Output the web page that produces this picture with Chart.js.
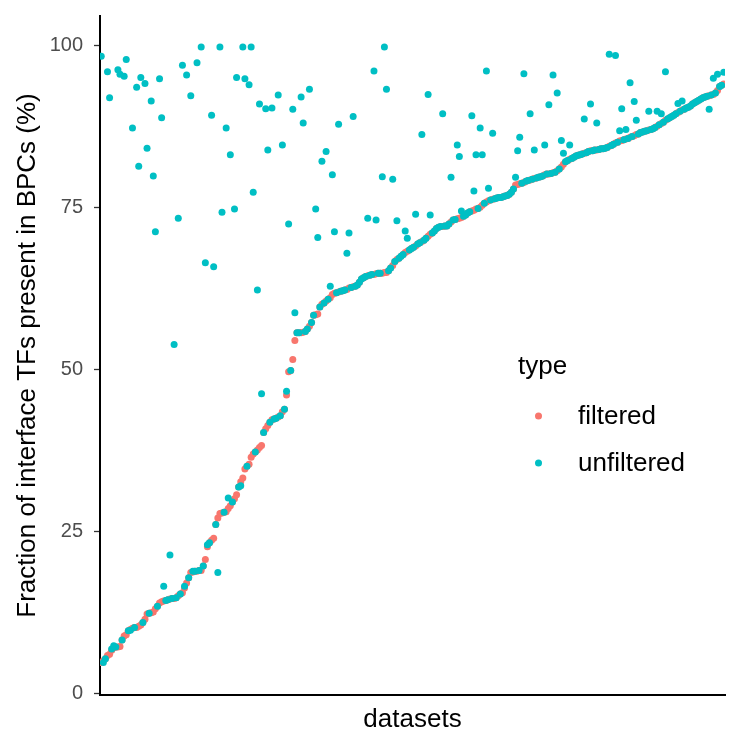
<!DOCTYPE html>
<html>
<head>
<meta charset="utf-8">
<script src="https://cdn.jsdelivr.net/npm/chart.js@4.4.1/dist/chart.umd.min.js"></script>
<style>
  html, body { margin: 0; padding: 0; background: #ffffff; }
  #wrap { position: relative; width: 729px; height: 733px; }
</style>
</head>
<body>
<div id="wrap"><canvas id="scatterChart"></canvas></div>
<script>
// series, one value per dataset (datasets are ordered by the filtered value)
var seriesNames = ['filtered', 'unfiltered'];
var seriesColors = ['#F8766D', '#00BFC4'];
var yTicks = [0, 25, 50, 75, 100];

var filtered = [
    4.7, 5.0, 5.3, 5.8, 6.0, 6.6, 7.0, 7.1, 7.1, 7.2,
    8.2, 8.8, 9.0, 9.6, 9.8, 10.0, 10.1, 10.1, 10.3, 10.5,
    10.9, 11.4, 12.2, 12.3, 12.4, 12.5, 13.0, 13.4, 13.9, 14.1,
    14.2, 14.3, 14.4, 14.5, 14.6, 14.6, 14.7, 15.0, 15.3, 15.5,
    16.2, 17.0, 17.8, 18.6, 18.7, 18.8, 18.8, 18.9, 18.9, 19.6,
    20.6, 22.6, 23.2, 23.6, 23.9, 26.0, 27.0, 27.7, 27.8, 27.9,
    28.0, 28.5, 28.9, 29.5, 30.0, 30.6, 31.8, 32.6, 33.2, 34.6,
    35.0, 35.3, 36.4, 36.9, 37.2, 37.5, 37.9, 38.2, 40.2, 40.8,
    41.3, 41.8, 42.2, 42.3, 42.4, 42.6, 42.8, 43.4, 43.8, 46.0,
    49.6, 49.8, 51.5, 54.4, 55.6, 55.6, 55.6, 55.7, 55.8, 56.2,
    56.6, 57.2, 58.3, 58.4, 58.5, 59.6, 60.0, 60.2, 60.5, 60.8,
    61.0, 61.5, 61.7, 61.8, 61.9, 62.0, 62.1, 62.2, 62.3, 62.5,
    62.6, 62.7, 62.8, 63.0, 63.4, 63.9, 64.1, 64.3, 64.4, 64.5,
    64.6, 64.6, 64.7, 64.8, 64.8, 64.8, 64.9, 64.9, 65.2, 65.6,
    66.0, 66.6, 66.9, 67.1, 67.4, 67.7, 68.0, 68.2, 68.4, 68.6,
    68.8, 69.0, 69.3, 69.5, 69.7, 69.9, 70.2, 70.5, 70.8, 71.0,
    71.3, 71.7, 71.9, 72.0, 72.0, 72.1, 72.1, 72.4, 72.7, 73.0,
    73.1, 73.2, 73.3, 73.4, 73.6, 73.8, 74.1, 74.3, 74.4, 74.5,
    74.7, 74.8, 75.0, 75.3, 75.6, 75.8, 76.0, 76.1, 76.2, 76.3,
    76.4, 76.5, 76.5, 76.6, 76.7, 76.8, 77.0, 77.3, 77.8, 78.4,
    78.5, 78.6, 78.7, 78.8, 79.0, 79.1, 79.2, 79.3, 79.4, 79.5,
    79.6, 79.7, 79.8, 80.0, 80.1, 80.1, 80.2, 80.3, 80.4, 80.6,
    80.9, 81.2, 81.6, 82.0, 82.2, 82.4, 82.5, 82.7, 82.9, 83.0,
    83.1, 83.2, 83.3, 83.4, 83.6, 83.7, 83.7, 83.8, 83.8, 83.9,
    84.0, 84.0, 84.1, 84.2, 84.4, 84.5, 84.7, 84.9, 85.0, 85.2,
    85.3, 85.4, 85.5, 85.6, 85.8, 85.9, 86.0, 86.2, 86.3, 86.5,
    86.6, 86.7, 86.8, 86.9, 87.0, 87.1, 87.3, 87.5, 87.7, 87.9,
    88.1, 88.4, 88.6, 88.8, 89.0, 89.2, 89.4, 89.6, 89.8, 90.0,
    90.1, 90.3, 90.4, 90.6, 90.9, 91.1, 91.3, 91.5, 91.7, 91.9,
    92.0, 92.1, 92.2, 92.3, 92.4, 92.6, 93.0, 93.6, 93.8, 94.0
];

var unfiltered = [
    98.3, 4.7, 5.3, 95.9, 91.9, 6.8, 7.3, 7.1, 96.2, 95.5,
    8.2, 95.2, 97.8, 9.6, 9.7, 87.2, 10.1, 93.5, 81.3, 95.0,
    10.9, 94.1, 84.1, 12.3, 91.4, 79.8, 71.2, 13.4, 94.8, 88.8,
    16.5, 14.3, 14.4, 21.3, 14.6, 53.8, 14.7, 73.3, 15.3, 96.9,
    16.5, 95.4, 17.8, 92.2, 18.8, 18.8, 97.3, 18.9, 99.7, 19.6,
    66.4, 22.9, 23.2, 89.2, 65.8, 26.0, 18.6, 99.7, 74.2, 27.9,
    87.2, 30.1, 83.1, 29.5, 74.7, 95.0, 31.8, 32.0, 99.7, 94.8,
    35.0, 93.9, 99.7, 77.3, 37.2, 62.2, 90.9, 46.2, 40.2, 90.2,
    83.8, 41.8, 90.3, 42.3, 42.4, 92.3, 42.8, 84.6, 43.8, 46.6,
    72.4, 49.8, 90.1, 58.7, 55.6, 55.6, 92.0, 88.0, 55.8, 56.2,
    93.2, 57.2, 58.3, 74.7, 70.3, 59.6, 82.1, 60.2, 83.6, 60.8,
    62.8, 80.0, 71.2, 61.8, 87.8, 62.0, 62.1, 62.2, 67.9, 71.0,
    62.6, 89.0, 62.8, 63.0, 63.4, 63.9, 64.1, 64.3, 73.3, 64.5,
    64.6, 96.0, 73.0, 64.8, 64.8, 79.7, 99.7, 93.2, 65.2, 65.6,
    79.3, 66.6, 72.9, 67.1, 67.4, 67.7, 71.3, 70.2, 68.4, 68.6,
    68.8, 73.9, 69.3, 69.5, 86.2, 69.9, 70.2, 92.4, 73.8, 71.0,
    71.3, 71.7, 71.9, 72.0, 89.4, 72.1, 72.1, 72.4, 79.6, 73.0,
    73.1, 84.6, 82.8, 74.4, 73.6, 73.8, 74.1, 74.3, 89.1, 77.5,
    83.1, 74.8, 87.2, 83.1, 75.6, 96.0, 77.9, 76.1, 86.4, 76.3,
    76.4, 76.5, 76.5, 76.6, 76.7, 76.8, 77.0, 77.3, 77.8, 79.6,
    83.7, 85.8, 78.7, 95.6, 79.0, 79.1, 89.4, 79.3, 83.8, 79.5,
    79.6, 79.7, 79.8, 84.6, 80.1, 90.8, 80.2, 95.4, 80.4, 92.6,
    80.9, 85.3, 83.3, 82.0, 82.2, 84.6, 82.5, 82.7, 82.9, 83.0,
    83.1, 83.2, 88.6, 83.4, 83.6, 90.9, 83.7, 83.8, 88.0, 83.9,
    84.0, 84.0, 84.1, 84.2, 98.6, 84.5, 84.7, 98.4, 85.0, 86.8,
    90.2, 85.4, 87.0, 85.6, 94.2, 85.9, 91.3, 88.4, 86.3, 86.5,
    86.6, 86.7, 86.8, 89.8, 87.0, 87.1, 87.3, 89.8, 87.7, 89.4,
    88.1, 95.9, 88.6, 88.8, 89.0, 89.2, 89.4, 91.0, 89.8, 91.4,
    90.1, 90.3, 90.4, 90.6, 90.9, 91.1, 91.3, 91.5, 91.7, 91.9,
    92.0, 92.1, 90.1, 92.3, 94.9, 92.6, 95.5, 93.6, 93.8, 95.8
];

var fontFamily = '"Liberation Sans", Arial, sans-serif';

function toPoints(values) {
    return values.map(function (v, i) { return { x: i + 1, y: v }; });
}

// ggplot-style legend drawn inside the panel
var typeLegend = {
    id: 'typeLegend',
    afterDraw: function (chart) {
        var ctx = chart.ctx;
        ctx.save();
        ctx.fillStyle = '#000000';
        ctx.font = '26px ' + fontFamily;
        ctx.textBaseline = 'alphabetic';
        ctx.textAlign = 'left';
        ctx.fillText('type', 518, 374);
        var rows = [416, 463];
        for (var i = 0; i < seriesNames.length; i++) {
            ctx.beginPath();
            ctx.fillStyle = seriesColors[i];
            ctx.arc(538.5, rows[i], 3.5, 0, Math.PI * 2);
            ctx.fill();
            ctx.fillStyle = '#000000';
            ctx.fillText(seriesNames[i], 578, rows[i] + 7.5);
        }
        ctx.restore();
    }
};

const ctx = document.getElementById('scatterChart');

new Chart(ctx, {
    type: 'scatter',
    data: {
        datasets: [{
            label: seriesNames[0],
            data: toPoints(filtered),
            backgroundColor: seriesColors[0],
            borderWidth: 0,
            pointRadius: 3.5,
            order: 2
        }, {
            label: seriesNames[1],
            data: toPoints(unfiltered),
            backgroundColor: seriesColors[1],
            borderWidth: 0,
            pointRadius: 3.5,
            order: 1
        }]
    },
    options: {
        responsive: true,
        maintainAspectRatio: false,
        animation: false,
        layout: {
            padding: { top: 16, right: 0, bottom: 0, left: 0 }
        },
        scales: {
            x: {
                type: 'linear',
                min: 0.4,
                max: filtered.length + 0.6,
                grid: { display: false },
                ticks: { display: false },
                border: { display: true, color: '#000000', width: 2 },
                title: {
                    display: true,
                    text: 'datasets',
                    color: '#000000',
                    font: { family: fontFamily, size: 26, lineHeight: 1 },
                    padding: { top: 0, bottom: 0 }
                },
                afterFit: function (scale) { scale.height = 38; }
            },
            y: {
                min: -0.3,
                max: 104.5,
                afterBuildTicks: function (scale) {
                    scale.ticks = yTicks.map(function (v) { return { value: v }; });
                },
                grid: {
                    display: true,
                    drawOnChartArea: false,
                    drawTicks: true,
                    tickLength: 6,
                    color: '#333333',
                    tickWidth: 1.3
                },
                border: { display: true, color: '#000000', width: 2 },
                ticks: {
                    color: '#4D4D4D',
                    padding: 11,
                    font: { family: fontFamily, size: 20 }
                },
                title: {
                    display: true,
                    text: 'Fraction of interface TFs present in BPCs (%)',
                    color: '#000000',
                    font: { family: fontFamily, size: 26, lineHeight: 1 },
                    padding: { top: 15, bottom: 0 }
                },
                afterFit: function (scale) {
                    scale.width = 100;
                    scale.paddingTop = 0;
                    scale.paddingBottom = 0;
                }
            }
        },
        plugins: {
            legend: { display: false },
            tooltip: { enabled: false }
        }
    },
    plugins: [typeLegend]
});
</script>
</body>
</html>
